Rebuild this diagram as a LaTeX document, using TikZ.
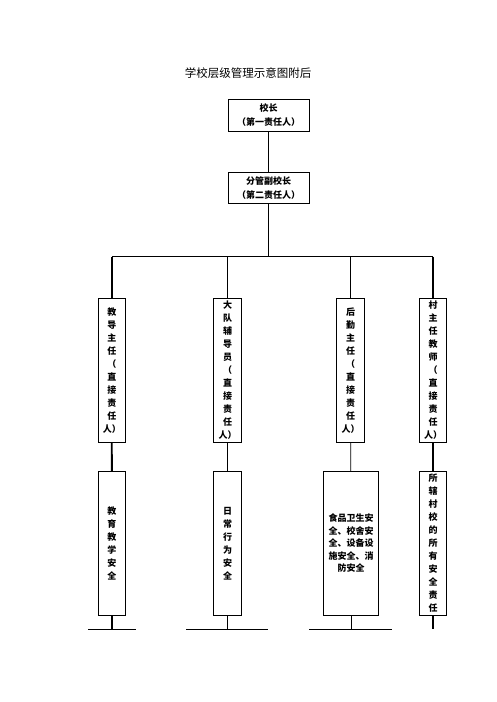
\documentclass[tikz,border=0pt]{standalone}
\usepackage{fontspec}
\setmainfont{Noto Sans CJK SC}
\usetikzlibrary{positioning}

\begin{document}
\begin{tikzpicture}[x=1pt, y=-1pt,
    box/.style={draw, line width=0.8pt, inner sep=0pt, align=center,
      font=\bfseries\fontsize{9}{13}\selectfont},
    top/.style={box, minimum width=81pt, minimum height=31.5pt,
      font=\bfseries\fontsize{9}{14}\selectfont},
    col/.style={box, minimum width=27.5pt, minimum height=144pt},
    link/.style={line width=0.8pt},
    main/.style={line width=1.8pt}]
  \useasboundingbox (0,0) rectangle (496,702);

  \node[font=\fontsize{11.5}{12}\selectfont] (title) at (248,73) {学校层级管理示意图附后};

  % leaders
  \node[top] (head) at (268.5,115.5) {校长\\（第一责任人）};
  \node[top] (vice) at (268.5,188) {分管副校长\\（第二责任人）};

  % responsible persons
  \node[col] (jd) at (111.8,370.3) {教\\导\\主\\任\\（\\直\\接\\责\\任\\人）};
  \node[col, minimum width=28.5pt] (dd) at (227.5,370.3) {大\\队\\辅\\导\\员\\（\\直\\接\\责\\任\\人）};
  \node[col] (hq) at (350.5,370.3) {后\\勤\\主\\任\\（\\直\\接\\责\\任\\人）};
  \node[col] (cz) at (433,370.3) {村\\主\\任\\教\\师\\（\\直\\接\\责\\任\\人）};

  % duties
  \node[col] (jx) at (111.9,543.5) {教\\育\\教\\学\\安\\全};
  \node[col, minimum width=28.5pt] (rc) at (227.5,543.5) {日\\常\\行\\为\\安\\全};
  \node[col, minimum width=55.5pt, font=\bfseries\fontsize{9}{12.5}\selectfont] (sp) at (351,543.5)
    {食品卫生安\\全、校舍安\\全、设备设\\施安全、消\\防安全};
  \node[col] (ss) at (433,543.5) {所\\辖\\村\\校\\的\\所\\有\\安\\全\\责\\任};

  \coordinate (bus) at (268.5,256.7);
  \coordinate (foot) at (0,629.3);

  \draw[link] (head) -- (vice);
  \draw[link] (vice) -- (bus);
  \draw[link] (jd.north |- bus) -- (cz.north |- bus);
  \draw[main] (jd.north |- bus) -- (jd);
  \draw[link] (dd.north |- bus) -- (dd);
  \draw[link] (hq.north |- bus) -- (hq);
  \draw[main] (cz.north |- bus) -- (cz);

  \draw[main] (jd) -- (jx);
  \draw[link] (dd) -- (rc);
  \draw[link] (hq) -- (sp);
  \draw[main] (cz) -- (ss);

  % feet
  \draw[main] (jx) -- (jx.south |- foot);
  \draw[link] (rc) -- (rc.south |- foot);
  \draw[link] (sp) -- (sp.south |- foot);
  \draw[main] (ss) -- (ss.south |- foot);
  \coordinate (jxl) at (88,629.3);   \coordinate (jxr) at (135.7,629.3);
  \coordinate (rcl) at (186,629.3);  \coordinate (rcr) at (267.7,629.3);
  \coordinate (spl) at (309.3,629.3); \coordinate (spr) at (391.7,629.3);
  \draw[link] (jxl) -- (jxr);
  \draw[link] (rcl) -- (rcr);
  \draw[link] (spl) -- (spr);
\end{tikzpicture}
\end{document}
